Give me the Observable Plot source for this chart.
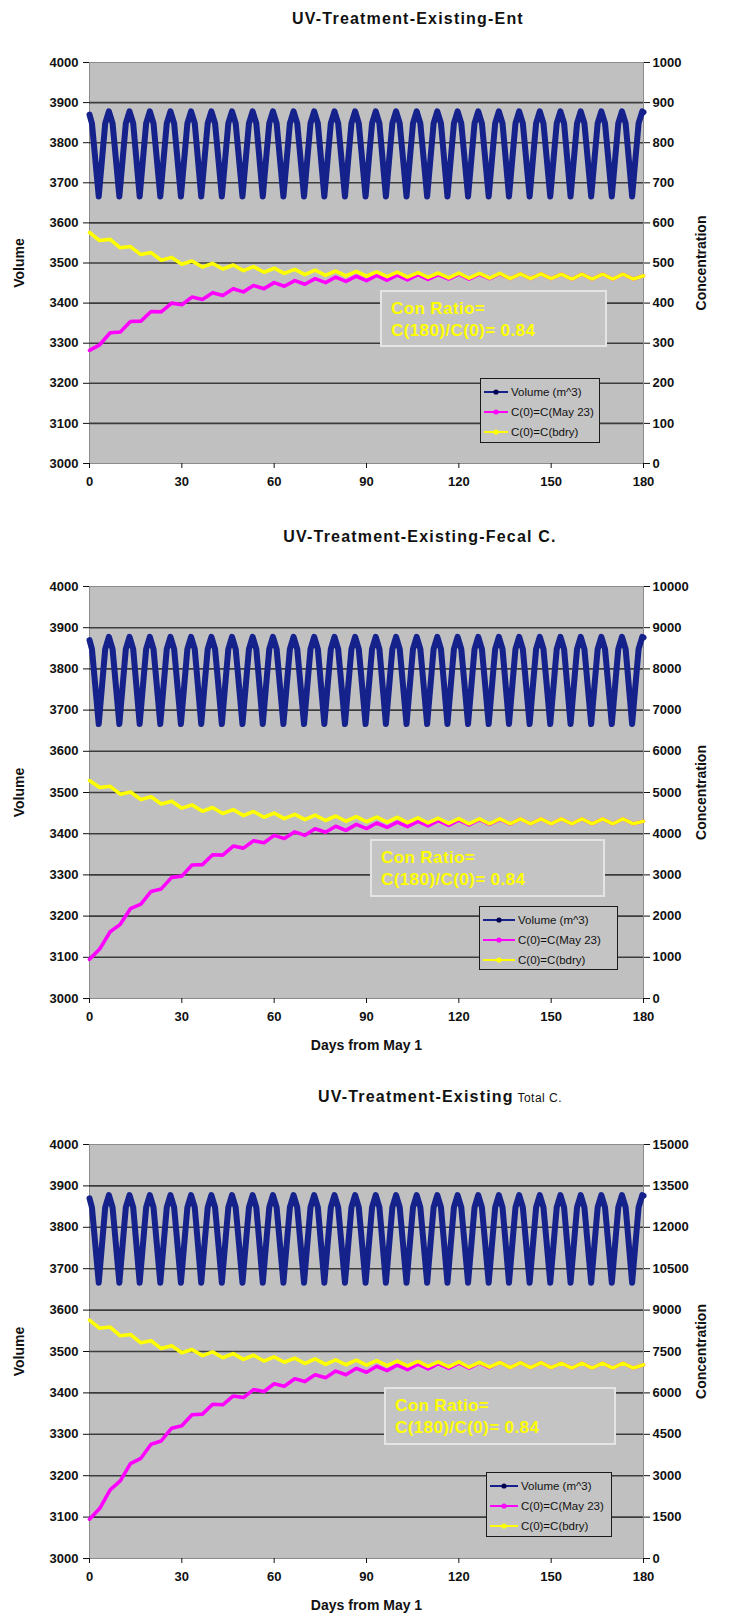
<!DOCTYPE html>
<html>
<head>
<meta charset="utf-8">
<script src="https://cdn.jsdelivr.net/npm/d3@7"></script>
<script src="https://cdn.jsdelivr.net/npm/@observablehq/plot@0.6"></script>
<style>
  body { margin: 0; background: #fff; font-family: "Liberation Sans", Arial, sans-serif; }
  #page { position: relative; width: 729px; height: 1617px; overflow: hidden; background: #fff; }
  .title { position: absolute; font-weight: bold; font-size: 16px; letter-spacing: 1.2px; white-space: nowrap; transform: translate(-50%, -50%); color: #111; }
  .title .sub { font-weight: normal; font-size: 12px; letter-spacing: 0.5px; }
  .panel { position: absolute; left: 0; }
  .ratio { position: absolute; box-sizing: border-box; border: 2px solid #e4e4e4; background: #c4c4c4; color: #ffff00; font-weight: bold; font-size: 17px; letter-spacing: 0.4px; padding: 6px 0 0 9px; line-height: 22px; white-space: nowrap; }
  .legend { position: absolute; box-sizing: border-box; border: 1px solid #1a1a1a; background: #c4c4c4; font-size: 11.5px; color: #111; padding-top: 3px; }
  .legend .row { display: flex; align-items: center; height: 20px; white-space: nowrap; }
  .legend svg { flex: none; }
</style>
</head>
<body>
<div id="page"></div>
<script>
// ---------- data ----------
const dayTicks = [0, 30, 60, 90, 120, 150, 180];
const volumeTicks = [3000, 3100, 3200, 3300, 3400, 3500, 3600, 3700, 3800, 3900, 4000];
const entConcTicks = [0, 100, 200, 300, 400, 500, 600, 700, 800, 900, 1000];
const fecalConcTicks = [0, 1000, 2000, 3000, 4000, 5000, 6000, 7000, 8000, 9000, 10000];
const totalConcTicks = [0, 1500, 3000, 4500, 6000, 7500, 9000, 10500, 12000, 13500, 15000];

const seriesNames = ["Volume (m^3)", "C(0)=C(May 23)", "C(0)=C(bdry)"];
const panelTitles = ["UV-Treatment-Existing-Ent", "UV-Treatment-Existing-Fecal C.", "UV-Treatment-Existing"];
const panel3SubTitle = "Total C.";
const ratioLines = ["Con Ratio=", "C(180)/C(0)= 0.84"];
const xTitle = "Days from May 1";

// Volume (m^3): dense periodic fill/drain cycle (same in all three panels)
const volumeDays = [0, 0.8,
  3.0, 5.1, 6.3, 7.5, 9.7, 11.8, 13.0, 14.2, 16.3, 18.4, 19.6, 20.8,
  23.0, 25.1, 26.3, 27.5, 29.7, 31.8, 33.0, 34.2, 36.3, 38.4, 39.6, 40.8,
  43.0, 45.1, 46.3, 47.5, 49.7, 51.8, 53.0, 54.2, 56.3, 58.4, 59.6, 60.8,
  63.0, 65.1, 66.3, 67.5, 69.7, 71.8, 73.0, 74.2, 76.3, 78.4, 79.6, 80.8,
  83.0, 85.1, 86.3, 87.5, 89.7, 91.8, 93.0, 94.2, 96.3, 98.4, 99.6, 100.8,
  103.0, 105.1, 106.3, 107.5, 109.7, 111.8, 113.0, 114.2, 116.3, 118.4, 119.6, 120.8,
  123.0, 125.1, 126.3, 127.5, 129.7, 131.8, 133.0, 134.2, 136.3, 138.4, 139.6, 140.8,
  143.0, 145.1, 146.3, 147.5, 149.7, 151.8, 153.0, 154.2, 156.3, 158.4, 159.6, 160.8,
  163.0, 165.1, 166.3, 167.5, 169.7, 171.8, 173.0, 174.2,
  176.3, 178.4, 179.6, 180];
const volumeValues = [3870, 3848,
  3666, 3848, 3878, 3848, 3666, 3848, 3878, 3848, 3666, 3848, 3878, 3848,
  3666, 3848, 3878, 3848, 3666, 3848, 3878, 3848, 3666, 3848, 3878, 3848,
  3666, 3848, 3878, 3848, 3666, 3848, 3878, 3848, 3666, 3848, 3878, 3848,
  3666, 3848, 3878, 3848, 3666, 3848, 3878, 3848, 3666, 3848, 3878, 3848,
  3666, 3848, 3878, 3848, 3666, 3848, 3878, 3848, 3666, 3848, 3878, 3848,
  3666, 3848, 3878, 3848, 3666, 3848, 3878, 3848, 3666, 3848, 3878, 3848,
  3666, 3848, 3878, 3848, 3666, 3848, 3878, 3848, 3666, 3848, 3878, 3848,
  3666, 3848, 3878, 3848, 3666, 3848, 3878, 3848, 3666, 3848, 3878, 3848,
  3666, 3848, 3878, 3848, 3666, 3848, 3878, 3848,
  3666, 3848, 3878, 3876];

// Concentration sample days
const concDays = [0, 3.3, 6.7, 10, 13.3, 16.7, 20, 23.3, 26.7, 30, 33.3, 36.7, 40, 43.3, 46.7, 50,
  53.3, 56.7, 60, 63.3, 66.7, 70, 73.3, 76.7, 80, 83.3, 86.7, 90, 93.3, 96.7, 100, 103.3, 106.7,
  110, 113.3, 116.7, 120, 123.3, 126.7, 130, 133.3, 136.7, 140, 143.3, 146.7, 150, 153.3, 156.7,
  160, 163.3, 166.7, 170, 173.3, 176.7, 180];

// Enterococcus
const entBdry = [576, 556, 559, 538, 541, 521, 526, 507, 514, 497, 505, 490, 499, 485, 495, 481,
  491, 477, 487, 474, 484, 471, 482, 469, 480, 468, 479, 467, 478, 466, 477, 465, 476, 464, 475,
  463, 475, 462, 474, 462, 474, 461, 473, 461, 473, 461, 472, 460, 472, 460, 472, 460, 472, 460, 468];
const entMay23 = [282, 296, 326, 328, 354, 355, 379, 378, 400, 396, 415, 409, 426, 419, 436, 428,
  444, 436, 451, 442, 456, 447, 461, 451, 465, 454, 467, 456, 469, 457, 470, 458, 471, 459, 471,
  460, 472, 460, 472, 461, 473, 461, 473, 461, 473, 461, 472, 460, 472, 460, 472, 460, 472, 460, 468];

// Fecal coliform
const fecalBdry = [5290, 5120, 5150, 4960, 5010, 4830, 4895, 4720, 4790, 4620, 4700, 4545, 4635,
  4490, 4585, 4440, 4540, 4400, 4500, 4365, 4470, 4340, 4450, 4320, 4430, 4302, 4415, 4290, 4405,
  4280, 4395, 4270, 4385, 4260, 4375, 4250, 4365, 4240, 4360, 4240, 4360, 4240, 4360, 4240, 4360,
  4240, 4360, 4240, 4360, 4240, 4360, 4240, 4360, 4240, 4300];
const fecalMay23 = [950, 1200, 1620, 1800, 2180, 2290, 2600, 2660, 2940, 2970, 3240, 3250, 3490,
  3480, 3700, 3650, 3830, 3780, 3960, 3885, 4045, 3960, 4120, 4035, 4180, 4080, 4225, 4125, 4260,
  4152, 4282, 4172, 4300, 4188, 4315, 4202, 4328, 4214, 4340, 4225, 4350, 4234, 4360, 4240, 4360,
  4240, 4360, 4240, 4360, 4240, 4360, 4240, 4360, 4240, 4300];

// Total coliform
const totalBdry = [8640, 8340, 8385, 8070, 8115, 7815, 7890, 7605, 7710, 7455, 7575, 7350, 7485,
  7275, 7425, 7215, 7365, 7155, 7305, 7110, 7260, 7065, 7230, 7035, 7200, 7020, 7185, 7005, 7170,
  6990, 7155, 6975, 7140, 6960, 7125, 6945, 7125, 6930, 7110, 6930, 7110, 6915, 7095, 6915, 7095,
  6915, 7080, 6900, 7080, 6900, 7080, 6900, 7080, 6900, 7020];
const totalMay23 = [1425, 1810, 2490, 2810, 3440, 3630, 4140, 4260, 4720, 4810, 5210, 5230, 5590,
  5570, 5890, 5830, 6120, 6050, 6330, 6240, 6510, 6410, 6660, 6550, 6790, 6660, 6890, 6750, 6965,
  6810, 7010, 6845, 7040, 6870, 7060, 6888, 7075, 6900, 7090, 6910, 7110, 6915, 7095, 6915, 7095,
  6915, 7080, 6900, 7080, 6900, 7080, 6900, 7080, 6900, 7020];

// ---------- drawing ----------
const COLORS = { volume: "#15228c", may: "#ff00ff", bdry: "#ffff00" };
const page = document.getElementById("page");

function makePanel(cfg) {
  const concTicks = cfg.concTicks;
  const cmax = concTicks[concTicks.length - 1];
  const toVol = c => 3000 + (c / cmax) * 1000;
  const fromVol = v => Math.round(((v - 3000) / 1000) * cmax);
  const vol = volumeDays.map((d, i) => ({ day: d, v: volumeValues[i] }));
  const conc = concDays.map((d, i) => ({ day: d, bdry: toVol(cfg.bdry[i]), may: toVol(cfg.may[i]) }));

  const marks = [
    Plot.frame({ fill: "#c0c0c0", stroke: "#8c8c8c" }),
    Plot.ruleY(volumeTicks.filter(t => t > 3000 && t < 4000), { stroke: "#3c3c3c", strokeWidth: 1.6 }),
    Plot.axisY({ ticks: volumeTicks, tickFormat: d => String(d), tickSize: 6, tickPadding: 5,
      fontSize: 13, fontWeight: "bold", label: null }),
    Plot.axisY({ anchor: "right", ticks: concTicks.map(toVol), tickFormat: v => String(fromVol(v)),
      tickSize: 6, tickPadding: 3, fontSize: 13, fontWeight: "bold", label: null }),
    Plot.axisX({ ticks: dayTicks, tickSize: 5, tickPadding: 8, fontSize: 13, fontWeight: "bold", label: null }),
    Plot.line(vol, { x: "day", y: "v", stroke: COLORS.volume, strokeWidth: 6, strokeLinejoin: "round" }),
    Plot.line(conc, { x: "day", y: "may", stroke: COLORS.may, strokeWidth: 3.6, strokeLinejoin: "round" }),
    Plot.line(conc, { x: "day", y: "bdry", stroke: COLORS.bdry, strokeWidth: 3.6, strokeLinejoin: "round" }),
    Plot.text(["Volume"], { text: d => d, frameAnchor: "left", dx: -70, rotate: -90,
      fontSize: 14, fontWeight: "bold", textAnchor: "middle", letterSpacing: "0.5px" }),
    Plot.text(["Concentration"], { text: d => d, frameAnchor: "right", dx: 58, rotate: -90,
      fontSize: 14, fontWeight: "bold", textAnchor: "middle", letterSpacing: "0.5px" })
  ];
  if (cfg.xTitle) {
    marks.push(Plot.text([cfg.xTitle], { text: d => d, frameAnchor: "bottom", dy: 47,
      fontSize: 14, fontWeight: "bold", textAnchor: "middle", lineAnchor: "middle" }));
  }

  const svg = Plot.plot({
    width: 729,
    height: cfg.height,
    marginLeft: 89,
    marginRight: 86,
    marginTop: cfg.marginTop,
    marginBottom: cfg.marginBottom,
    x: { domain: [0, 180] },
    y: { domain: [3000, 4000] },
    style: { fontFamily: "'Liberation Sans', Arial, sans-serif", background: "transparent", color: "#111", overflow: "visible" },
    marks
  });
  const wrap = document.createElement("div");
  wrap.className = "panel";
  wrap.style.top = cfg.top + "px";
  wrap.appendChild(svg);
  page.appendChild(wrap);

  // title
  const t = document.createElement("div");
  t.className = "title";
  t.style.left = cfg.titleX + "px";
  t.style.top = cfg.titleY + "px";
  t.textContent = cfg.title;
  if (cfg.subTitle) {
    const s = document.createElement("span");
    s.className = "sub";
    s.textContent = " " + cfg.subTitle;
    t.appendChild(s);
  }
  page.appendChild(t);

  // ratio box
  const r = document.createElement("div");
  r.className = "ratio";
  Object.assign(r.style, { left: cfg.ratio[0] + "px", top: cfg.ratio[1] + "px", width: cfg.ratio[2] + "px", height: cfg.ratio[3] + "px" });
  r.innerHTML = ratioLines.map(l => `<div>${l}</div>`).join("");
  page.appendChild(r);

  // legend
  const lg = document.createElement("div");
  lg.className = "legend";
  Object.assign(lg.style, { left: cfg.legend[0] + "px", top: cfg.legend[1] + "px", width: cfg.legend[2] + "px", height: cfg.legend[3] + "px" });
  const sw = cfg.legend[4];
  const colors = [COLORS.volume, COLORS.may, COLORS.bdry];
  seriesNames.forEach((name, i) => {
    const row = document.createElement("div");
    row.className = "row";
    row.innerHTML = `<svg width="${sw + 6}" height="12"><line x1="3" y1="6" x2="${sw + 3}" y2="6" stroke="${colors[i]}" stroke-width="2"/>` +
      `<circle cx="${3 + sw / 2}" cy="6" r="2.6" fill="${i === 0 ? "#000050" : colors[i]}"/></svg><span>${name}</span>`;
    lg.appendChild(row);
  });
  page.appendChild(lg);
}

makePanel({ top: 40, height: 460, marginTop: 22, marginBottom: 37, concTicks: entConcTicks,
  bdry: entBdry, may: entMay23, title: panelTitles[0], titleX: 408, titleY: 19,
  ratio: [380, 290, 227, 57], legend: [480, 378, 120, 65, 24] });
makePanel({ top: 560, height: 505, marginTop: 26, marginBottom: 67, concTicks: fecalConcTicks,
  bdry: fecalBdry, may: fecalMay23, title: panelTitles[1], titleX: 420, titleY: 537,
  ratio: [370, 839, 235, 58], legend: [479, 906, 139, 64, 32], xTitle: xTitle });
makePanel({ top: 1115, height: 502, marginTop: 29, marginBottom: 59, concTicks: totalConcTicks,
  bdry: totalBdry, may: totalMay23, title: panelTitles[2], subTitle: panel3SubTitle, titleX: 440, titleY: 1097,
  ratio: [384, 1387, 232, 58], legend: [486, 1472, 126, 65, 28], xTitle: xTitle });
</script>
</body>
</html>
